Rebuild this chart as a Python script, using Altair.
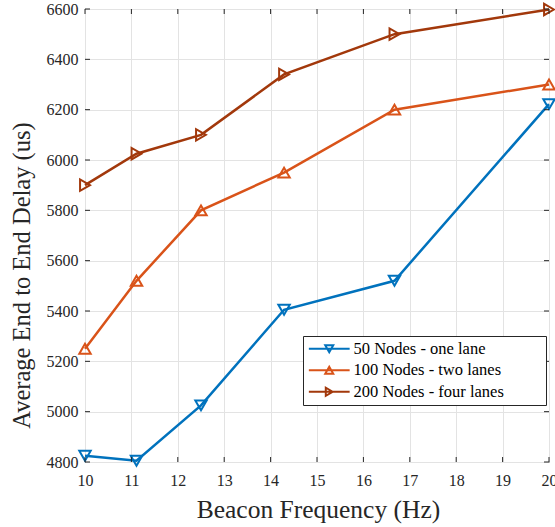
import altair as alt
import pandas as pd

# ---- data ----
freq = [10, 11.11, 12.5, 14.29, 16.67, 20]
delay_50 = [4825, 4805, 5025, 5405, 5520, 6222]
delay_100 = [5250, 5520, 5800, 5950, 6200, 6300]
delay_200 = [5900, 6025, 6100, 6340, 6500, 6598]
series = ["50 Nodes - one lane", "100 Nodes - two lanes", "200 Nodes - four lanes"]
colors = ["#0072BD", "#D95319", "#A2380B"]
shapes = ["triangle-down", "triangle-up", "triangle-right"]
x_ticks = list(range(10, 21))
y_ticks = list(range(4800, 6601, 200))

rows = []
for name, vals in zip(series, [delay_50, delay_100, delay_200]):
    for f, v in zip(freq, vals):
        rows.append({"freq": f, "delay": v, "series": name})
df = pd.DataFrame(rows)
xt = pd.DataFrame({"freq": x_ticks})
yt = pd.DataFrame({"delay": y_ticks})

W, H = 464, 453
FONT = "Liberation Serif"
AX = "#262626"

x_scale = alt.Scale(domain=[10, 20], nice=False, zero=False)
y_scale = alt.Scale(domain=[4800, 6600], nice=False, zero=False)
color_scale = alt.Scale(domain=series, range=colors)
shape_scale = alt.Scale(domain=series, range=shapes)

# legend symbols: line segment + marker (custom SVG paths)
L = 5.1
legend_paths = [
    f"M{-L},0L{L},0M0,0.866L-1,-0.866L1,-0.866Z",
    f"M{-L},0L{L},0M0,-0.866L-1,0.866L1,0.866Z",
    f"M{-L},0L{L},0M0.866,0L-0.866,-1L-0.866,1Z",
]
legend_shape_scale = alt.Scale(domain=series, range=legend_paths)

# blank room on the right of the legend box, as in the reference
PAD = "\u00a0" * 9 + "\u200b"

legend = alt.Legend(
    title=None,
    orient="none",
    legendX=218,
    legendY=327,
    padding=4.5,
    fillColor="white",
    strokeColor=AX,
    labelFont=FONT,
    labelFontSize=16.5,
    labelColor="#000000",
    labelLimit=400,
    labelExpr=f"datum.label + '{PAD}'",
    symbolSize=64,
    symbolOffset=13.5,
    labelOffset=16,
    rowPadding=4.5,
    symbolStrokeWidth=2,
    symbolFillColor="transparent",
)

x_axis = alt.Axis(
    values=x_ticks, format="d", ticks=False, tickSize=0, domain=False,
    grid=True, gridColor="#E3E3E3", gridWidth=1, labelFlush=False,
    labelFont=FONT, labelFontSize=16, labelColor=AX, labelPadding=23,
    labelBaseline="alphabetic",
    title="Beacon Frequency (Hz)", titleFont=FONT, titleFontSize=25.5,
    titleFontWeight="normal", titleColor=AX, titleX=233, titleY=55,
    titleAlign="center", titleBaseline="alphabetic",
)
y_axis = alt.Axis(
    values=y_ticks, format="d", ticks=False, tickSize=0, domain=False,
    grid=True, gridColor="#E3E3E3", gridWidth=1, labelFlush=False,
    labelFont=FONT, labelFontSize=16, labelColor=AX, labelPadding=7,
    title="Average End to End Delay (us)", titleFont=FONT, titleFontSize=24.5,
    titleFontWeight="normal", titleColor=AX, titleAngle=270,
    titleX=-56, titleY=266, titleAlign="center", titleBaseline="alphabetic",
)

X = alt.X("freq:Q", scale=x_scale, axis=x_axis, title="Beacon Frequency (Hz)")
Y = alt.Y("delay:Q", scale=y_scale, axis=y_axis, title="Average End to End Delay (us)")

line = alt.Chart(df).mark_line(strokeWidth=2.5).encode(
    x=X, y=Y,
    color=alt.Color("series:N", scale=color_scale, legend=None),
)

points = alt.Chart(df).mark_point(filled=False, size=130, strokeWidth=2, opacity=1).encode(
    x=X, y=Y,
    color=alt.Color("series:N", scale=color_scale, legend=None),
    shape=alt.Shape("series:N", scale=shape_scale, legend=None),
)

legend_layer = alt.Chart(df).transform_filter("false").mark_point(
    filled=False, strokeWidth=2, opacity=1
).encode(
    x=X, y=Y,
    color=alt.Color("series:N", scale=color_scale, legend=legend),
    shape=alt.Shape("series:N", scale=legend_shape_scale, legend=legend),
)

tick_len = 5
bottom_ticks = alt.Chart(xt).mark_rule(color=AX, strokeWidth=1).encode(
    x=X, y=alt.value(H), y2=alt.value(H - tick_len),
)
top_ticks = alt.Chart(xt).mark_rule(color=AX, strokeWidth=1).encode(
    x=X, y=alt.value(0), y2=alt.value(tick_len),
)
left_ticks = alt.Chart(yt).mark_rule(color=AX, strokeWidth=1).encode(
    y=Y, x=alt.value(0), x2=alt.value(tick_len),
)
right_ticks = alt.Chart(yt).mark_rule(color=AX, strokeWidth=1).encode(
    y=Y, x=alt.value(W - tick_len), x2=alt.value(W),
)

chart = alt.layer(
    line, points, legend_layer, bottom_ticks, top_ticks, left_ticks, right_ticks
).resolve_scale(shape="independent", color="independent").properties(
    width=W, height=H,
    autosize=alt.AutoSizeParams(type="none"),
    padding={"left": 85, "top": 9, "right": 6, "bottom": 65},
    background="white",
).configure_view(stroke=AX, strokeWidth=1)

chart.save("out.html", embed_options={"renderer": "svg", "actions": False})
